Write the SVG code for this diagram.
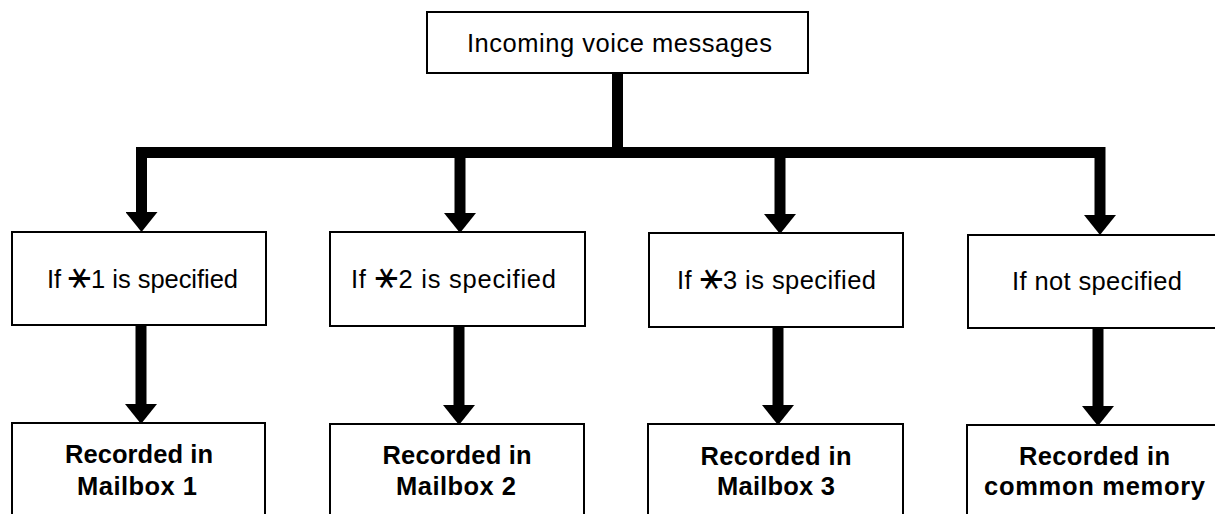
<svg xmlns="http://www.w3.org/2000/svg" width="1215" height="514" viewBox="0 0 1215 514">
  <style>
    .box { fill: #ffffff; stroke: #000000; stroke-width: 2; }
    .lbl { font-family: "Liberation Sans", Arial, sans-serif; font-size: 25.5px; fill: #000000; text-anchor: middle; }
    .bold { font-family: "Liberation Sans", Arial, sans-serif; font-size: 25.5px; font-weight: bold; fill: #000000; text-anchor: middle; }
    .star { font-family: "DejaVu Sans", sans-serif; font-size: 38px; font-weight: normal; }
    .wire { fill: none; stroke: #000000; stroke-width: 11; stroke-linecap: butt; stroke-linejoin: miter; }
  </style>
  <defs>
    <marker id="arrow" viewBox="0 0 20 32" refX="0" refY="16" markerWidth="20" markerHeight="32" markerUnits="userSpaceOnUse" orient="auto">
      <path d="M0,0 L20,16 L0,32 Z" fill="#000000"/>
    </marker>
  </defs>
  <rect width="1215" height="514" fill="#ffffff"/>

  <g id="connectors">
    <path class="wire" d="M617.5,73 V153"/>
    <path class="wire" d="M136,152.5 H1105"/>
    <path class="wire" d="M141.5,147 V212" marker-end="url(#arrow)"/>
    <path class="wire" d="M460,152 V213" marker-end="url(#arrow)"/>
    <path class="wire" d="M780,152 V214" marker-end="url(#arrow)"/>
    <path class="wire" d="M1100,147 V215" marker-end="url(#arrow)"/>
    <path class="wire" d="M141,325 V404" marker-end="url(#arrow)"/>
    <path class="wire" d="M459,326 V405" marker-end="url(#arrow)"/>
    <path class="wire" d="M778,327 V405" marker-end="url(#arrow)"/>
    <path class="wire" d="M1098,328 V406" marker-end="url(#arrow)"/>
  </g>

  <g id="incoming">
    <rect class="box" x="427" y="12" width="381" height="61"/>
    <text class="lbl" x="619.5" y="52" textLength="305" lengthAdjust="spacing">Incoming voice messages</text>
  </g>

  <g id="cond1">
    <rect class="box" x="12" y="232" width="254" height="93"/>
    <text class="lbl" x="142.5" y="288" textLength="191" lengthAdjust="spacing">If <tspan class="star">⚹</tspan>1 is specified</text>
  </g>
  <g id="cond2">
    <rect class="box" x="330" y="232" width="255" height="94"/>
    <text class="lbl" x="453.5" y="288" textLength="205" lengthAdjust="spacing">If <tspan class="star">⚹</tspan>2 is specified</text>
  </g>
  <g id="cond3">
    <rect class="box" x="649" y="233" width="254" height="94"/>
    <text class="lbl" x="776.5" y="289" textLength="199" lengthAdjust="spacing">If <tspan class="star">⚹</tspan>3 is specified</text>
  </g>
  <g id="cond4">
    <rect class="box" x="968" y="235" width="258" height="93"/>
    <text class="lbl" x="1097" y="290" textLength="170" lengthAdjust="spacing">If not specified</text>
  </g>

  <g id="mailbox1">
    <rect class="box" x="12" y="423" width="253" height="110"/>
    <text class="bold" x="139" y="463" textLength="148" lengthAdjust="spacing">Recorded in</text>
    <text class="bold" x="137" y="495" textLength="120" lengthAdjust="spacing">Mailbox 1</text>
  </g>
  <g id="mailbox2">
    <rect class="box" x="330" y="424" width="254" height="110"/>
    <text class="bold" x="457" y="464" textLength="149" lengthAdjust="spacing">Recorded in</text>
    <text class="bold" x="456" y="495" textLength="120" lengthAdjust="spacing">Mailbox 2</text>
  </g>
  <g id="mailbox3">
    <rect class="box" x="648" y="424" width="255" height="110"/>
    <text class="bold" x="776" y="465" textLength="151" lengthAdjust="spacing">Recorded in</text>
    <text class="bold" x="776" y="495" textLength="118" lengthAdjust="spacing">Mailbox 3</text>
  </g>
  <g id="common">
    <rect class="box" x="967" y="425" width="259" height="110"/>
    <text class="bold" x="1094.5" y="465" textLength="151" lengthAdjust="spacing">Recorded in</text>
    <text class="bold" x="1094.5" y="495" textLength="221" lengthAdjust="spacing">common memory</text>
  </g>
</svg>
